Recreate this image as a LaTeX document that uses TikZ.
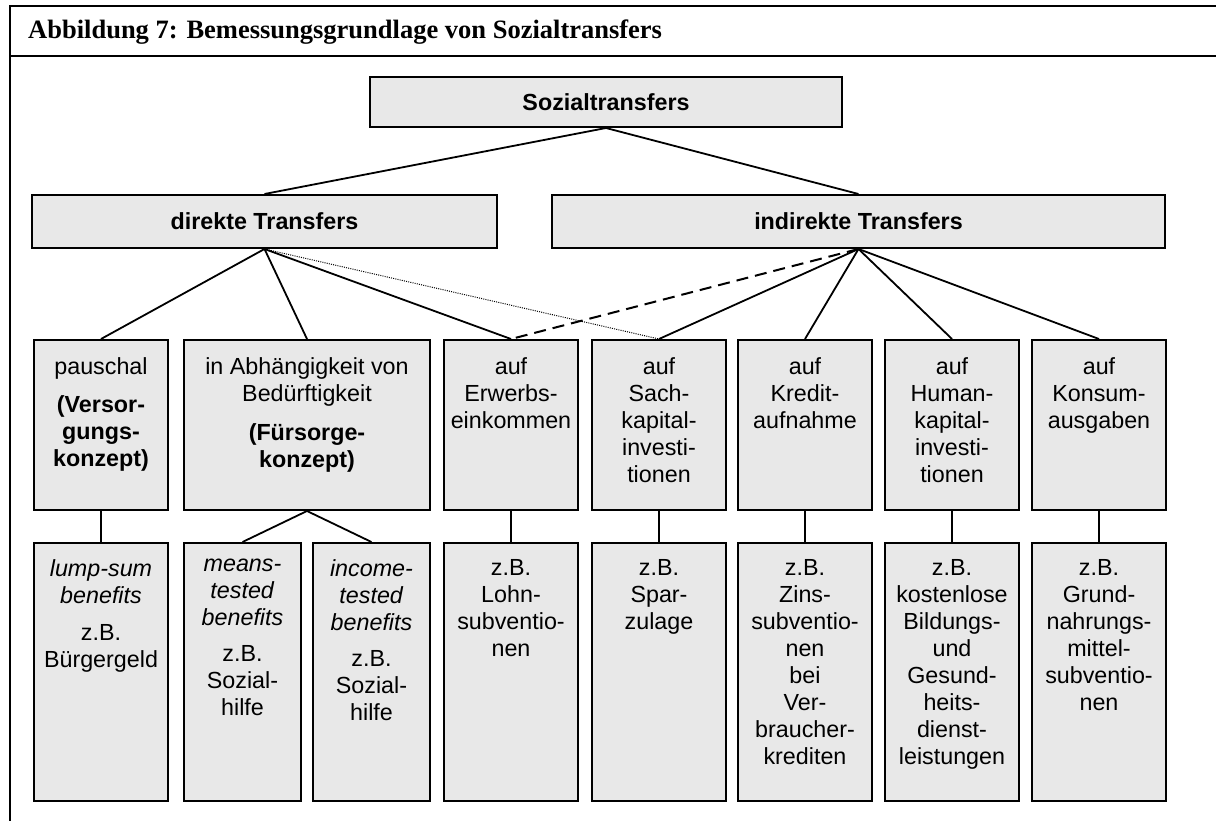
\documentclass[tikz,border=0pt]{standalone}
\usepackage{fontspec}
\usetikzlibrary{shadows}
\setmainfont{Liberation Serif}
\newfontfamily\arialfont{Liberation Sans}
\definecolor{boxgray}{RGB}{232,232,232}
\begin{document}
\begin{tikzpicture}[x=1pt,y=-1pt,
  frame/.style={line width=2pt, line join=miter},
  box/.style={draw=black, line width=2pt, fill=boxgray, inner sep=0pt,
    drop shadow={shadow xshift=1.3pt, shadow yshift=-1.3pt, fill=black!40, opacity=1}},
  headbox/.style={box, font=\arialfont\bfseries\fontsize{23.3}{27}\selectfont},
  btext/.style={anchor=north, inner sep=0pt, align=center,
    font=\arialfont\fontsize{23.3}{27}\selectfont, execute at begin node=\strut},
  link/.style={line width=1.8pt},
  dashlink/.style={line width=2pt, dash pattern=on 12pt off 7pt},
  dotlink/.style={line width=1pt, dash pattern=on 1pt off 1.2pt},
  midbox/.style={box, minimum height=170pt},
  lowbox/.style={box, minimum height=258pt},
]
\useasboundingbox (0,0) rectangle (1216,821);

% caption frame
\draw[frame] (10,821) -- (10,6) -- (1216,6);
\draw[frame] (10,56) -- (1216,56);
\node[anchor=base west, inner sep=0pt, font=\bfseries\fontsize{26.5}{30}\selectfont]
  (title) at (28,39) {Abbildung 7: Bemessungsgrundlage von Sozialtransfers};

% top levels
\node[headbox, minimum width=472pt, minimum height=50pt] (soz) at (606,102) {Sozialtransfers};
\node[headbox, minimum width=465pt, minimum height=53pt] (dir) at (264.5,221.5) {direkte Transfers};
\node[headbox, minimum width=613pt, minimum height=53pt] (ind) at (858.5,221.5) {indirekte Transfers};

% middle row
\node[midbox, minimum width=134pt] (m1) at (101,425) {};
\node[midbox, minimum width=246pt] (m2) at (307,425) {};
\node[midbox, minimum width=134pt] (m3) at (511,425) {};
\node[midbox, minimum width=134pt] (m4) at (659,425) {};
\node[midbox, minimum width=134pt] (m5) at (805,425) {};
\node[midbox, minimum width=134pt] (m6) at (952,425) {};
\node[midbox, minimum width=134pt] (m7) at (1099,425) {};

% bottom row
\node[lowbox, minimum width=134pt] (b1) at (101,672) {};
\node[lowbox, minimum width=117pt] (b2) at (242.5,672) {};
\node[lowbox, minimum width=117pt] (b3) at (371.5,672) {};
\node[lowbox, minimum width=134pt] (b4) at (511,672) {};
\node[lowbox, minimum width=134pt] (b5) at (659,672) {};
\node[lowbox, minimum width=134pt] (b6) at (805,672) {};
\node[lowbox, minimum width=134pt] (b7) at (952,672) {};
\node[lowbox, minimum width=134pt] (b8) at (1099,672) {};

% texts of the middle row
\node[btext] (tm1) at ([yshift=-18pt]m1.north)
  {pauschal\\[11pt]\textbf{(Versor-}\\\textbf{gungs-}\\\textbf{konzept)}};
\node[btext] (tm2) at ([yshift=-18pt]m2.north)
  {in Abhängigkeit von\\Bedürftigkeit\\[12pt]\textbf{(Fürsorge-}\\\textbf{konzept)}};
\node[btext] (tm3) at ([yshift=-18pt]m3.north) {auf\\Erwerbs-\\einkommen};
\node[btext] (tm4) at ([yshift=-18pt]m4.north) {auf\\Sach-\\kapital-\\investi-\\tionen};
\node[btext] (tm5) at ([yshift=-18pt]m5.north) {auf\\Kredit-\\aufnahme};
\node[btext] (tm6) at ([yshift=-18pt]m6.north) {auf\\Human-\\kapital-\\investi-\\tionen};
\node[btext] (tm7) at ([yshift=-18pt]m7.north) {auf\\Konsum-\\ausgaben};

% texts of the bottom row
\node[btext] (tb1) at ([yshift=-17pt]b1.north)
  {\textit{lump-sum}\\\textit{benefits}\\[10pt]z.B.\\Bürgergeld};
\node[btext] (tb2) at ([yshift=-17pt]b2.north)
  {\textit{means-}\\\textit{tested}\\\textit{benefits}\\[9pt]z.B.\\Sozial-\\hilfe};
\node[btext] (tb3) at ([yshift=-17pt]b3.north)
  {\textit{income-}\\\textit{tested}\\\textit{benefits}\\[9pt]z.B.\\Sozial-\\hilfe};
\node[btext] (tb4) at ([yshift=-17pt]b4.north) {z.B.\\Lohn-\\subventio-\\nen};
\node[btext] (tb5) at ([yshift=-17pt]b5.north) {z.B.\\Spar-\\zulage};
\node[btext] (tb6) at ([yshift=-17pt]b6.north)
  {z.B.\\Zins-\\subventio-\\nen\\bei\\Ver-\\braucher-\\krediten};
\node[btext] (tb7) at ([yshift=-17pt]b7.north)
  {z.B.\\kostenlose\\Bildungs-\\und\\Gesund-\\heits-\\dienst-\\leistungen};
\node[btext] (tb8) at ([yshift=-17pt]b8.north)
  {z.B.\\Grund-\\nahrungs-\\mittel-\\subventio-\\nen};

% connectors
\draw[link] (soz.south) -- (dir.north);
\draw[link] (soz.south) -- (ind.north);
\draw[link] (dir.south) -- (m1.north);
\draw[link] (dir.south) -- (m2.north);
\draw[link] (dir.south) -- (m3.north);
\draw[dotlink] (dir.south) -- (m4.north);
\draw[dashlink] (ind.south) -- (m3.north);
\draw[link] (ind.south) -- (m4.north);
\draw[link] (ind.south) -- (m5.north);
\draw[link] (ind.south) -- (m6.north);
\draw[link] (ind.south) -- (m7.north);
\draw[link] (m1.south) -- (b1.north);
\draw[link] (m2.south) -- (b2.north);
\draw[link] (m2.south) -- (b3.north);
\draw[link] (m3.south) -- (b4.north);
\draw[link] (m4.south) -- (b5.north);
\draw[link] (m5.south) -- (b6.north);
\draw[link] (m6.south) -- (b7.north);
\draw[link] (m7.south) -- (b8.north);
\end{tikzpicture}
\end{document}
